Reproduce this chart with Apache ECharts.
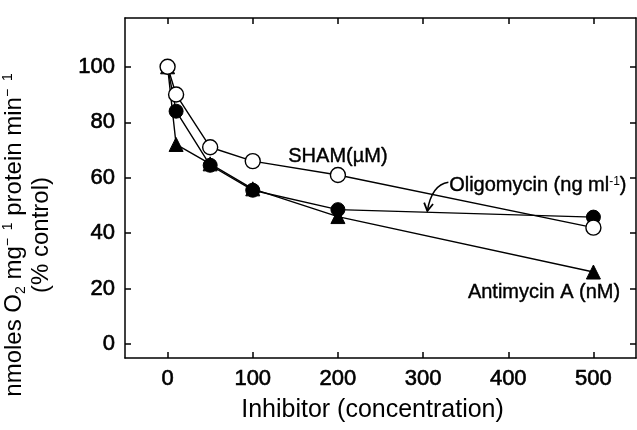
<!DOCTYPE html>
<html>
<head>
<meta charset="utf-8">
<script src="https://cdn.jsdelivr.net/npm/echarts@6/dist/echarts.min.js"></script>
<style>html,body{margin:0;padding:0;background:#fff}#c{width:637px;height:430px}</style>
</head>
<body>
<div id="c"></div>
<script>
// Data
const concentration = [0, 10, 50, 100, 200, 500];
const shamValues = [100, 90, 71, 66, 61, 42];
const oligomycinValues = [100, 84, 64.5, 55.5, 48.5, 45.8];
const antimycinValues = [100, 72, 65, 56, 46, 26];
const xTicks = [0, 100, 200, 300, 400, 500];
const yTicks = [0, 20, 40, 60, 80, 100];

const FONT = 'Liberation Sans';
const pairs = (ys) => concentration.map((x, i) => [x, ys[i]]);

const chart = echarts.init(document.getElementById('c'), null, {renderer: 'canvas'});

const axisLine = {show: true, onZero: false, lineStyle: {color: '#000', width: 1.5}};
const tick = {show: true, inside: true, length: 6, lineStyle: {color: '#000', width: 1.5}};
const heavy = {textBorderColor: '#000', textBorderWidth: 0.6};

const option = {
  backgroundColor: '#fff',
  animation: false,
  grid: {left: 125, right: 1, top: 18, bottom: 72, outerBoundsMode: 'none'},
  xAxis: [{
    type: 'value', min: -50, max: 550, position: 'bottom',
    axisLine: axisLine,
    axisTick: Object.assign({customValues: xTicks}, tick),
    axisLabel: Object.assign({customValues: xTicks, color: '#000', fontFamily: FONT, fontSize: 22, margin: 10}, heavy),
    splitLine: {show: false},
    name: 'Inhibitor (concentration)', nameLocation: 'middle', nameGap: 40,
    nameTextStyle: {color: '#000', fontFamily: FONT, fontSize: 25, padding: [0, 16, 0, 0]}
  }, {
    type: 'value', min: -50, max: 550, position: 'top',
    axisLine: axisLine,
    axisTick: Object.assign({customValues: xTicks}, tick),
    axisLabel: {show: false},
    splitLine: {show: false}
  }],
  yAxis: [{
    type: 'value', min: -5, max: 117.6, position: 'left',
    axisLine: axisLine,
    axisTick: Object.assign({customValues: yTicks}, tick),
    axisLabel: Object.assign({customValues: yTicks, color: '#000', fontFamily: FONT, fontSize: 22, margin: 10}, heavy),
    splitLine: {show: false},
    name: '{t|nmoles O}{sub|2}{t| mg}{sup|−  1}{t| protein min}{sup|−  1}\n{t|(% control)}',
    nameLocation: 'middle', nameRotate: 90, nameGap: 70,
    nameTextStyle: {
      color: '#000', fontFamily: FONT, fontSize: 24, align: 'center',
      padding: [0, 94, 0, 0],
      rich: {
        t: {fontFamily: FONT, fontSize: 24, color: '#000', lineHeight: 27},
        sub: {fontFamily: FONT, fontSize: 14, color: '#000', verticalAlign: 'bottom', lineHeight: 27},
        sup: {fontFamily: FONT, fontSize: 14, color: '#000', verticalAlign: 'top', lineHeight: 27}
      }
    }
  }, {
    type: 'value', min: -5, max: 117.6, position: 'right',
    axisLine: axisLine,
    axisTick: Object.assign({customValues: yTicks}, tick),
    axisLabel: {show: false},
    splitLine: {show: false}
  }],
  series: [{
    name: 'Antimycin A (nM)', type: 'line', data: pairs(antimycinValues),
    symbol: 'triangle', symbolSize: 14, showAllSymbol: true,
    lineStyle: {color: '#000', width: 1.4},
    itemStyle: {color: '#000', borderColor: '#000', borderWidth: 1},
    markPoint: {
      symbol: 'circle', symbolSize: 1, itemStyle: {color: 'rgba(0,0,0,0)'},
      data: [{coord: [442, 18.8], label: Object.assign({show: true, position: 'inside', formatter: 'Antimycin A (nM)', color: '#000', fontFamily: FONT, fontSize: 20}, {textBorderColor: '#000', textBorderWidth: 0.4})}]
    },
    z: 2
  }, {
    name: 'Oligomycin', type: 'line', data: pairs(oligomycinValues),
    symbol: 'circle', symbolSize: 14, showAllSymbol: true,
    lineStyle: {color: '#000', width: 1.4},
    itemStyle: {color: '#000', borderColor: '#000', borderWidth: 1},
    markPoint: {
      symbol: 'circle', symbolSize: 1, itemStyle: {color: 'rgba(0,0,0,0)'},
      data: [{coord: [330, 57.3], label: {show: true, position: 'right', distance: 0,
        formatter: '{t|Oligomycin (ng ml}{sup|-1}{t|)}',
        rich: {
          t: {color: '#000', fontFamily: FONT, fontSize: 20, textBorderColor: '#000', textBorderWidth: 0.4},
          sup: {color: '#000', fontFamily: FONT, fontSize: 12, verticalAlign: 'top'}
        }}}]
    },
    z: 3
  }, {
    name: 'SHAM', type: 'line', data: pairs(shamValues),
    symbol: 'circle', symbolSize: 15, showAllSymbol: true,
    lineStyle: {color: '#000', width: 1.4},
    itemStyle: {color: '#fff', borderColor: '#000', borderWidth: 1.4},
    markPoint: {
      symbol: 'circle', symbolSize: 1, itemStyle: {color: 'rgba(0,0,0,0)'},
      data: [{coord: [200, 67.5], label: {show: true, position: 'inside', formatter: 'SHAM(µM)', color: '#000', fontFamily: FONT, fontSize: 20, textBorderColor: '#000', textBorderWidth: 0.4}}]
    },
    z: 4
  }]
};
chart.setOption(option);

// Curved annotation arrow pointing at the oligomycin line (anchored in data coordinates)
const arrowStart = [329.7, 58.4];
const arrowCtrl = [310, 57.5];
const arrowTip = [305, 48];
const p0 = chart.convertToPixel({gridIndex: 0}, arrowStart);
const pc = chart.convertToPixel({gridIndex: 0}, arrowCtrl);
const p1 = chart.convertToPixel({gridIndex: 0}, arrowTip);
const dx = p1[0] - pc[0], dy = p1[1] - pc[1];
const len = Math.hypot(dx, dy);
const ux = dx / len, uy = dy / len;
const headLen = 9, ang = Math.PI / 6;
const rot = (a) => [ux * Math.cos(a) - uy * Math.sin(a), ux * Math.sin(a) + uy * Math.cos(a)];
const r1 = rot(ang), r2 = rot(-ang);
chart.setOption({
  graphic: [{
    type: 'bezierCurve', z: 10,
    shape: {x1: p0[0], y1: p0[1], cpx1: pc[0], cpy1: pc[1], x2: p1[0], y2: p1[1]},
    style: {stroke: '#000', lineWidth: 1.5, fill: null}
  }, {
    type: 'polyline', z: 10,
    shape: {points: [
      [p1[0] - r1[0] * headLen, p1[1] - r1[1] * headLen],
      [p1[0], p1[1]],
      [p1[0] - r2[0] * headLen, p1[1] - r2[1] * headLen]
    ]},
    style: {stroke: '#000', lineWidth: 1.8, fill: null}
  }]
});
</script>
</body>
</html>
